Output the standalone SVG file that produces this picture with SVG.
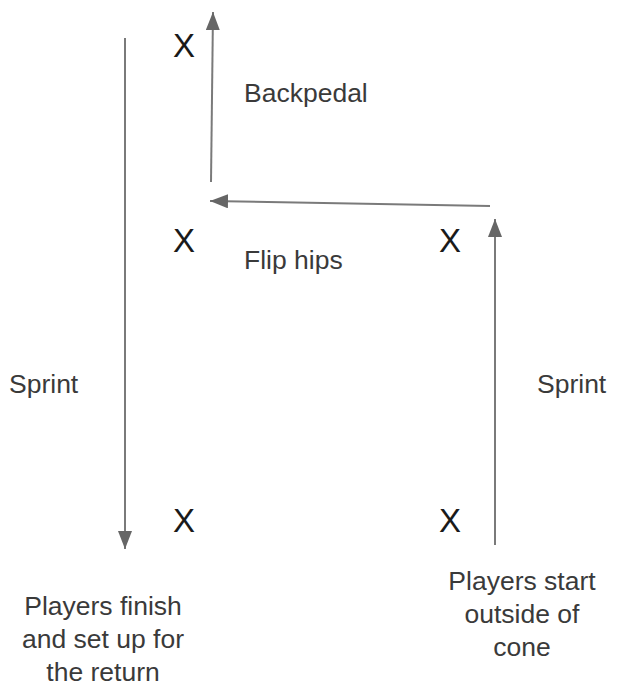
<svg xmlns="http://www.w3.org/2000/svg" width="621" height="687" viewBox="0 0 621 687">
<style>
.t{font-family:"Liberation Sans",Arial,sans-serif;font-size:26.5px;fill:#3a3a3a}
.x{font-family:"Liberation Sans",Arial,sans-serif;font-size:33px;fill:#1a1a1a;text-anchor:middle}
.c{text-anchor:middle}
.ln{stroke:#7a7a7a;stroke-width:2;fill:none;marker-end:url(#ah)}
</style>
<defs>
<marker id="ah" markerUnits="userSpaceOnUse" markerWidth="20" markerHeight="14" refX="18" refY="7" orient="auto">
<path d="M0,0 L18,7 L0,14 Z" fill="#666"/>
</marker>
</defs>
<rect width="621" height="687" fill="#fff"/>
<g id="connectors">
<line class="ln" x1="125" y1="38" x2="125" y2="549"/>
<line class="ln" x1="211" y1="182" x2="213" y2="12"/>
<line class="ln" x1="490" y1="206" x2="210" y2="201"/>
<line class="ln" x1="495" y1="545" x2="495" y2="219"/>
</g>
<g id="cone-top-left"><text class="x" x="184" y="57">X</text></g>
<g id="cone-mid-left"><text class="x" x="184" y="252">X</text></g>
<g id="cone-mid-right"><text class="x" x="450" y="252">X</text></g>
<g id="cone-bottom-left"><text class="x" x="184" y="532">X</text></g>
<g id="cone-bottom-right"><text class="x" x="450" y="532">X</text></g>
<g id="label-backpedal"><text class="t" x="244" y="102">Backpedal</text></g>
<g id="label-flip"><text class="t" x="244" y="269">Flip hips</text></g>
<g id="label-sprint-left"><text class="t" x="9" y="393">Sprint</text></g>
<g id="label-sprint-right"><text class="t" x="537" y="393">Sprint</text></g>
<g id="label-finish">
<text class="t c" x="103" y="615">Players finish</text>
<text class="t c" x="103" y="648">and set up for</text>
<text class="t c" x="103" y="681">the return</text>
</g>
<g id="label-start">
<text class="t c" x="522" y="590">Players start</text>
<text class="t c" x="522" y="623">outside of</text>
<text class="t c" x="522" y="656">cone</text>
</g>
</svg>
